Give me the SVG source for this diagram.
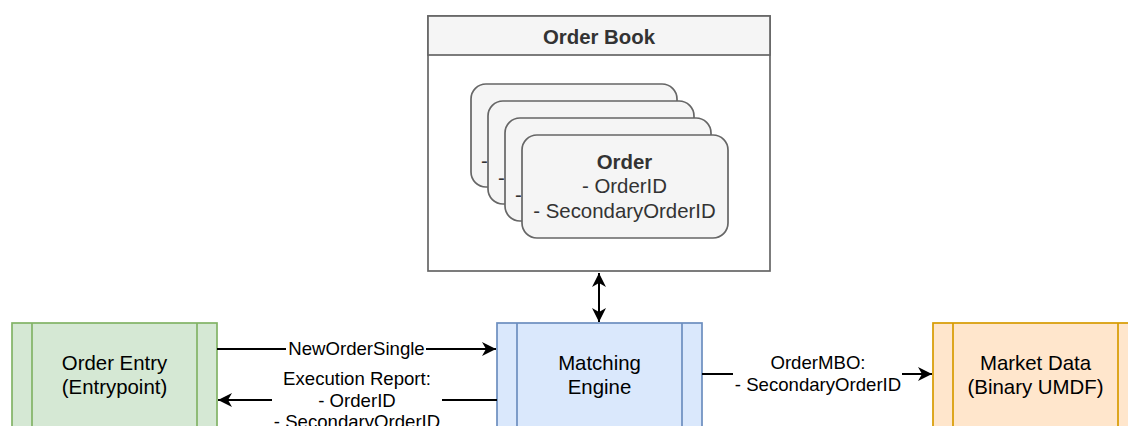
<svg xmlns="http://www.w3.org/2000/svg" width="1128" height="426" viewBox="0 0 1128 426">
<defs>
<style>
text{font-family:"Liberation Sans",Arial,Helvetica,sans-serif;fill:#000;text-anchor:middle}
.v{font-size:20.4px}
.l{font-size:18.6px}
.b{font-weight:bold}
.g{fill:#333}
.s{text-anchor:start}
.card{fill:#f5f5f5;stroke:#666;stroke-width:1.7}
.edge{stroke:#000;stroke-width:2;fill:none}
</style>
<marker id="ah" viewBox="0 0 16 14" refX="15" refY="7" markerWidth="16" markerHeight="14" markerUnits="userSpaceOnUse" orient="auto-start-reverse">
<path d="M15,7 L1,0 L5,7 L1,14 Z" fill="#000"/>
</marker>
</defs>
<rect width="1128" height="426" fill="#fff"/>
<g id="order-book">
<rect x="428" y="16" width="342" height="255" fill="#fff" stroke="#666" stroke-width="1.7"/>
<rect x="428" y="16" width="342" height="39" fill="#f5f5f5" stroke="#666" stroke-width="1.7"/>
<text class="v b g" x="599" y="44">Order Book</text>
</g>
<g id="order-card-1">
<rect class="card" x="471" y="84" width="206" height="103" rx="15"/>
<text class="v g s" x="481" y="168">-</text>
</g>
<g id="order-card-2">
<rect class="card" x="488" y="101" width="206" height="103" rx="15"/>
<text class="v g s" x="498" y="185">-</text>
</g>
<g id="order-card-3">
<rect class="card" x="505" y="118" width="206" height="103" rx="15"/>
<text class="v g s" x="515" y="202">-</text>
</g>
<g id="order-card-4">
<rect class="card" x="522" y="135" width="206" height="103" rx="15"/>
<text class="v g"><tspan class="b" x="624.5" y="169">Order</tspan><tspan x="624.5" y="193">- OrderID</tspan><tspan x="624.5" y="218">- SecondaryOrderID</tspan></text>
</g>
<g id="order-entry">
<rect x="12" y="323" width="205" height="120" fill="#d5e8d4" stroke="#82b366" stroke-width="1.7"/>
<line x1="32" y1="323" x2="32" y2="443" stroke="#82b366" stroke-width="1.7"/>
<line x1="197" y1="323" x2="197" y2="443" stroke="#82b366" stroke-width="1.7"/>
<text class="v"><tspan x="114.5" y="370">Order Entry</tspan><tspan x="114.5" y="394">(Entrypoint)</tspan></text>
</g>
<g id="matching-engine">
<rect x="497" y="323" width="205" height="120" fill="#dae8fc" stroke="#6c8ebf" stroke-width="1.7"/>
<line x1="517" y1="323" x2="517" y2="443" stroke="#6c8ebf" stroke-width="1.7"/>
<line x1="682" y1="323" x2="682" y2="443" stroke="#6c8ebf" stroke-width="1.7"/>
<text class="v"><tspan x="599.5" y="370">Matching</tspan><tspan x="599.5" y="394">Engine</tspan></text>
</g>
<g id="market-data">
<rect x="933" y="323" width="205" height="120" fill="#ffe6cc" stroke="#d79b00" stroke-width="1.7"/>
<line x1="953" y1="323" x2="953" y2="443" stroke="#d79b00" stroke-width="1.7"/>
<line x1="1118" y1="323" x2="1118" y2="443" stroke="#d79b00" stroke-width="1.7"/>
<text class="v"><tspan x="1035.5" y="370">Market Data</tspan><tspan x="1035.5" y="394">(Binary UMDF)</tspan></text>
</g>
<g id="connectors">
<line class="edge" x1="599" y1="273" x2="599" y2="322" marker-start="url(#ah)" marker-end="url(#ah)"/>
<line class="edge" x1="217" y1="349" x2="496" y2="349" marker-end="url(#ah)"/>
<rect x="286" y="338" width="140" height="22" fill="#fff"/>
<text class="l" x="356.5" y="355">NewOrderSingle</text>
<line class="edge" x1="497" y1="400" x2="218" y2="400" marker-end="url(#ah)"/>
<rect x="272" y="368" width="170" height="60" fill="#fff"/>
<text class="l"><tspan x="357" y="385">Execution Report:</tspan><tspan x="357" y="406.5">- OrderID</tspan><tspan x="357" y="428">- SecondaryOrderID</tspan></text>
<line class="edge" x1="702" y1="374" x2="932" y2="374" marker-end="url(#ah)"/>
<rect x="733" y="351" width="169" height="46" fill="#fff"/>
<text class="l"><tspan x="818" y="368.5">OrderMBO:</tspan><tspan x="818" y="391">- SecondaryOrderID</tspan></text>
</g>
</svg>
